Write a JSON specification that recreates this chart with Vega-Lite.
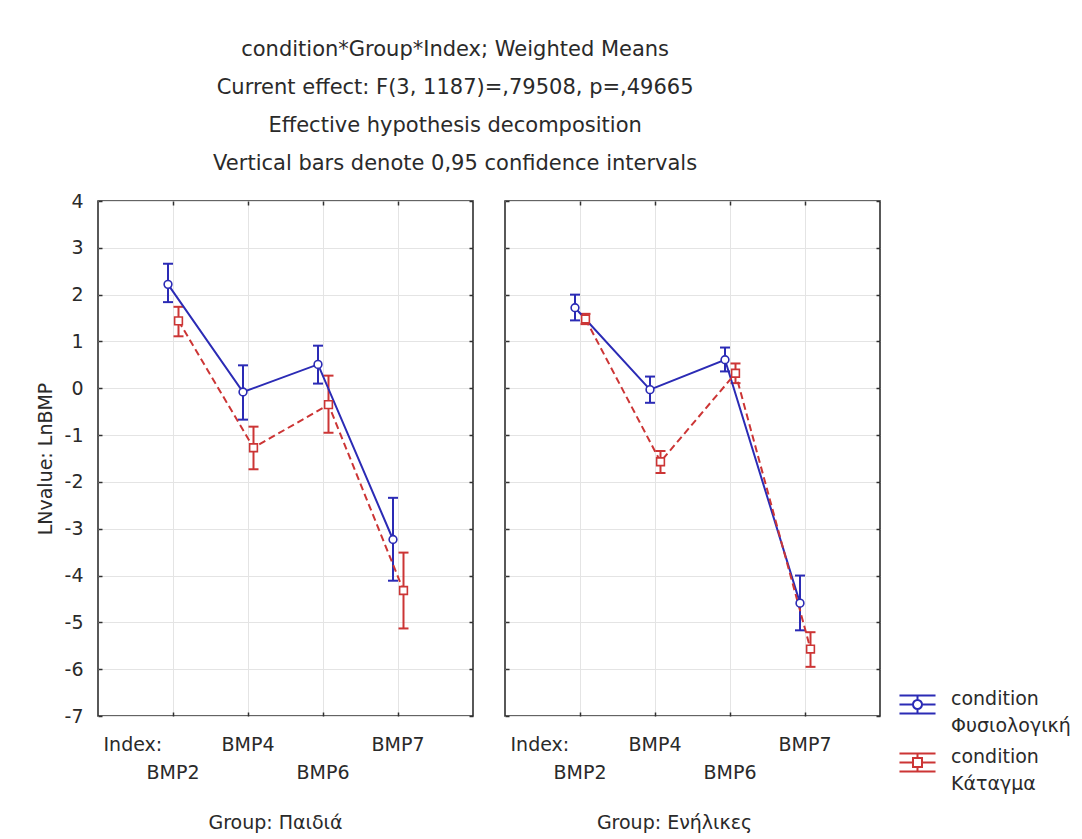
{
  "$schema": "https://vega.github.io/schema/vega-lite/v6.json",
  "background": "white",
  "padding": {"left": 35, "top": 39, "right": 5, "bottom": 5},
  "title": {
    "text": [
      "condition*Group*Index; Weighted Means",
      "Current effect: F(3, 1187)=,79508, p=,49665",
      "Effective hypothesis decomposition",
      "Vertical bars denote 0,95 confidence intervals"
    ],
    "font": "DejaVu Sans",
    "fontSize": 21,
    "fontWeight": "normal",
    "color": "#2a2a2a",
    "lineHeight": 38,
    "anchor": "middle",
    "frame": "bounds",
    "dx": -98,
    "offset": 17
  },
  "datasets": {
    "bmp": [
      {"Group": "Παιδιά", "condition": "Φυσιολογική", "Index": "BMP2", "mean": 2.22, "lo": 1.84, "hi": 2.66},
      {"Group": "Παιδιά", "condition": "Φυσιολογική", "Index": "BMP4", "mean": -0.08, "lo": -0.67, "hi": 0.49},
      {"Group": "Παιδιά", "condition": "Φυσιολογική", "Index": "BMP6", "mean": 0.51, "lo": 0.10, "hi": 0.91},
      {"Group": "Παιδιά", "condition": "Φυσιολογική", "Index": "BMP7", "mean": -3.23, "lo": -4.11, "hi": -2.34},
      {"Group": "Παιδιά", "condition": "Κάταγμα", "Index": "BMP2", "mean": 1.44, "lo": 1.11, "hi": 1.74},
      {"Group": "Παιδιά", "condition": "Κάταγμα", "Index": "BMP4", "mean": -1.27, "lo": -1.73, "hi": -0.82},
      {"Group": "Παιδιά", "condition": "Κάταγμα", "Index": "BMP6", "mean": -0.35, "lo": -0.95, "hi": 0.27},
      {"Group": "Παιδιά", "condition": "Κάταγμα", "Index": "BMP7", "mean": -4.32, "lo": -5.13, "hi": -3.51},
      {"Group": "Ενήλικες", "condition": "Φυσιολογική", "Index": "BMP2", "mean": 1.72, "lo": 1.45, "hi": 2.0},
      {"Group": "Ενήλικες", "condition": "Φυσιολογική", "Index": "BMP4", "mean": -0.03, "lo": -0.31, "hi": 0.25},
      {"Group": "Ενήλικες", "condition": "Φυσιολογική", "Index": "BMP6", "mean": 0.61, "lo": 0.36, "hi": 0.87},
      {"Group": "Ενήλικες", "condition": "Φυσιολογική", "Index": "BMP7", "mean": -4.59, "lo": -5.17, "hi": -4.0},
      {"Group": "Ενήλικες", "condition": "Κάταγμα", "Index": "BMP2", "mean": 1.48, "lo": 1.37, "hi": 1.59},
      {"Group": "Ενήλικες", "condition": "Κάταγμα", "Index": "BMP4", "mean": -1.57, "lo": -1.81, "hi": -1.34},
      {"Group": "Ενήλικες", "condition": "Κάταγμα", "Index": "BMP6", "mean": 0.32, "lo": 0.11, "hi": 0.53},
      {"Group": "Ενήλικες", "condition": "Κάταγμα", "Index": "BMP7", "mean": -5.57, "lo": -5.95, "hi": -5.21}
    ]
  },
  "data": {"name": "bmp"},
  "spacing": 28,
  "hconcat": [
    {
      "width": 375,
      "height": 515,
      "transform": [{"filter": "datum.Group === 'Παιδιά'"}],
      "title": {"text": "Group: Παιδιά", "orient": "bottom", "dx": -10, "offset": 32},
      "encoding": {
        "xOffset": {"field": "condition", "type": "nominal", "scale": {"type": "point", "domain": ["Φυσιολογική", "Κάταγμα"], "range": [32.5, 43], "padding": 0}},
        "color": {
          "field": "condition", "type": "nominal",
          "scale": {"domain": ["Φυσιολογική", "Κάταγμα"], "range": ["#2b2bb5", "#cc3535"]},
          "legend": {
            "orient": "none", "legendX": 800, "legendY": 484, "title": null,
            "labelExpr": "['condition', datum.label]",
            "labelFontSize": 19, "labelBaseline": "alphabetic", "labelOffset": 14,
            "symbolSize": 1300, "symbolStrokeWidth": 2, "symbolFillColor": "white",
            "rowPadding": 7,
            "encoding": {
              "labels": {"lineHeight": {"value": 27}},
              "symbols": {
                "shape": {
                  "condition": {"test": "datum.value === 'Κάταγμα'", "value": "M-1,-0.5H1M-1,0H-0.25M0.25,0H1M-1,0.5H1M0,-0.5V-0.25M0,0.25V0.5M-0.25,-0.25H0.25V0.25H-0.25Z"},
                  "value": "M-1,-0.5H1M-1,0H-0.25M0.25,0H1M-1,0.5H1M0,-0.5V-0.25M0,0.25V0.5M0.25,0A0.25,0.25 0 1,1 -0.25,0A0.25,0.25 0 1,1 0.25,0"
                },
                "fill": {"value": "white"},
                "fillOpacity": {"value": 1},
                "opacity": {"value": 1}
              }
            }
          }
        }
      },
      "resolve": {"axis": {"x": "independent", "y": "independent"}},
      "layer": [
        {
          "mark": {"type": "rule", "strokeWidth": 2},
          "encoding": {
            "x": {"field": "Index", "type": "nominal", "scale": {"domain": ["BMP2", "BMP4", "BMP6", "BMP7"], "paddingInner": 0, "paddingOuter": 0.5},
                  "axis": {"orient": "bottom", "grid": true, "ticks": true, "tickSize": -4, "labelPadding": 23, "labelAngle": 0,
                           "labelExpr": "datum.value === 'BMP2' || datum.value === 'BMP6' ? ['', datum.value] : datum.value",
                           "title": "Index:", "titleAnchor": "start", "titleAlign": "left", "titleBaseline": "top", "titleX": 5, "titleY": 19}},
            "y": {"field": "lo", "type": "quantitative", "scale": {"domain": [-7, 4], "nice": false},
                  "axis": {"orient": "left", "values": [-7, -6, -5, -4, -3, -2, -1, 0, 1, 2, 3, 4], "grid": true, "tickSize": -4, "labelPadding": 19,
                           "labelExpr": "datum.value < 0 ? '-' + abs(datum.value) : '' + datum.value",
                           "title": "LNvalue: LnBMP", "titlePadding": 9}},
            "y2": {"field": "hi"}
          }
        },
        {
          "mark": {"type": "point", "shape": "M-1,0H1", "size": 100, "filled": false, "strokeWidth": 2, "opacity": 1},
          "encoding": {
            "x": {"field": "Index", "type": "nominal",
                  "axis": {"orient": "top", "grid": false, "labels": false, "tickSize": -4, "title": null}},
            "y": {"field": "lo", "type": "quantitative",
                  "axis": {"orient": "right", "values": [-7, -6, -5, -4, -3, -2, -1, 0, 1, 2, 3, 4], "grid": false, "labels": false, "tickSize": -4, "title": null}}
          }
        },
        {
          "mark": {"type": "point", "shape": "M-1,0H1", "size": 100, "filled": false, "strokeWidth": 2, "opacity": 1},
          "encoding": {
            "x": {"field": "Index", "type": "nominal", "axis": null},
            "y": {"field": "hi", "type": "quantitative", "axis": null}
          }
        },
        {
          "transform": [{"filter": "datum.condition === 'Φυσιολογική'"}],
          "mark": {"type": "line", "strokeWidth": 2},
          "encoding": {
            "x": {"field": "Index", "type": "nominal", "axis": null},
            "y": {"field": "mean", "type": "quantitative", "axis": null}
          }
        },
        {
          "transform": [{"filter": "datum.condition === 'Κάταγμα'"}],
          "mark": {"type": "line", "strokeWidth": 2, "strokeDash": [7, 4]},
          "encoding": {
            "x": {"field": "Index", "type": "nominal", "axis": null},
            "y": {"field": "mean", "type": "quantitative", "axis": null}
          }
        },
        {
          "transform": [{"filter": "datum.condition === 'Φυσιολογική'"}],
          "mark": {"type": "point", "shape": "circle", "filled": false, "fill": "white", "fillOpacity": 1, "strokeWidth": 1.6, "size": 60, "opacity": 1},
          "encoding": {
            "x": {"field": "Index", "type": "nominal", "axis": null},
            "y": {"field": "mean", "type": "quantitative", "axis": null}
          }
        },
        {
          "transform": [{"filter": "datum.condition === 'Κάταγμα'"}],
          "mark": {"type": "point", "shape": "square", "filled": false, "fill": "white", "fillOpacity": 1, "strokeWidth": 1.6, "size": 60, "opacity": 1},
          "encoding": {
            "x": {"field": "Index", "type": "nominal", "axis": null},
            "y": {"field": "mean", "type": "quantitative", "axis": null}
          }
        }
      ]
    },
    {
      "width": 375,
      "height": 515,
      "transform": [{"filter": "datum.Group === 'Ενήλικες'"}],
      "title": {"text": "Group: Ενήλικες", "orient": "bottom", "dx": -18, "offset": 32},
      "encoding": {
        "xOffset": {"field": "condition", "type": "nominal", "scale": {"type": "point", "domain": ["Φυσιολογική", "Κάταγμα"], "range": [32.5, 43], "padding": 0}},
        "color": {"field": "condition", "type": "nominal"}
      },
      "resolve": {"axis": {"x": "independent", "y": "independent"}},
      "layer": [
        {
          "mark": {"type": "rule", "strokeWidth": 2},
          "encoding": {
            "x": {"field": "Index", "type": "nominal", "scale": {"domain": ["BMP2", "BMP4", "BMP6", "BMP7"], "paddingInner": 0, "paddingOuter": 0.5},
                  "axis": {"orient": "bottom", "grid": true, "ticks": true, "tickSize": -4, "labelPadding": 23, "labelAngle": 0,
                           "labelExpr": "datum.value === 'BMP2' || datum.value === 'BMP6' ? ['', datum.value] : datum.value",
                           "title": "Index:", "titleAnchor": "start", "titleAlign": "left", "titleBaseline": "top", "titleX": 5, "titleY": 19}},
            "y": {"field": "lo", "type": "quantitative", "scale": {"domain": [-7, 4], "nice": false},
                  "axis": {"orient": "left", "values": [-7, -6, -5, -4, -3, -2, -1, 0, 1, 2, 3, 4], "grid": true, "tickSize": -4, "labels": false, "title": null}},
            "y2": {"field": "hi"}
          }
        },
        {
          "mark": {"type": "point", "shape": "M-1,0H1", "size": 100, "filled": false, "strokeWidth": 2, "opacity": 1},
          "encoding": {
            "x": {"field": "Index", "type": "nominal",
                  "axis": {"orient": "top", "grid": false, "labels": false, "tickSize": -4, "title": null}},
            "y": {"field": "lo", "type": "quantitative",
                  "axis": {"orient": "right", "values": [-7, -6, -5, -4, -3, -2, -1, 0, 1, 2, 3, 4], "grid": false, "labels": false, "tickSize": -4, "title": null}}
          }
        },
        {
          "mark": {"type": "point", "shape": "M-1,0H1", "size": 100, "filled": false, "strokeWidth": 2, "opacity": 1},
          "encoding": {
            "x": {"field": "Index", "type": "nominal", "axis": null},
            "y": {"field": "hi", "type": "quantitative", "axis": null}
          }
        },
        {
          "transform": [{"filter": "datum.condition === 'Φυσιολογική'"}],
          "mark": {"type": "line", "strokeWidth": 2},
          "encoding": {
            "x": {"field": "Index", "type": "nominal", "axis": null},
            "y": {"field": "mean", "type": "quantitative", "axis": null}
          }
        },
        {
          "transform": [{"filter": "datum.condition === 'Κάταγμα'"}],
          "mark": {"type": "line", "strokeWidth": 2, "strokeDash": [7, 4]},
          "encoding": {
            "x": {"field": "Index", "type": "nominal", "axis": null},
            "y": {"field": "mean", "type": "quantitative", "axis": null}
          }
        },
        {
          "transform": [{"filter": "datum.condition === 'Φυσιολογική'"}],
          "mark": {"type": "point", "shape": "circle", "filled": false, "fill": "white", "fillOpacity": 1, "strokeWidth": 1.6, "size": 60, "opacity": 1},
          "encoding": {
            "x": {"field": "Index", "type": "nominal", "axis": null},
            "y": {"field": "mean", "type": "quantitative", "axis": null}
          }
        },
        {
          "transform": [{"filter": "datum.condition === 'Κάταγμα'"}],
          "mark": {"type": "point", "shape": "square", "filled": false, "fill": "white", "fillOpacity": 1, "strokeWidth": 1.6, "size": 60, "opacity": 1},
          "encoding": {
            "x": {"field": "Index", "type": "nominal", "axis": null},
            "y": {"field": "mean", "type": "quantitative", "axis": null}
          }
        }
      ]
    }
  ],
  "config": {
    "font": "DejaVu Sans",
    "view": {"stroke": "#303030", "strokeWidth": 1.6},
    "axis": {
      "domain": false,
      "labelFont": "DejaVu Sans",
      "labelFontSize": 19,
      "labelColor": "#2a2a2a",
      "labelLineHeight": 28,
      "titleFont": "DejaVu Sans",
      "titleFontSize": 19,
      "titleFontWeight": "normal",
      "titleColor": "#2a2a2a",
      "gridColor": "#e4e4e4",
      "gridWidth": 1,
      "tickColor": "#303030",
      "tickWidth": 1.5
    },
    "title": {"font": "DejaVu Sans", "fontSize": 19, "fontWeight": "normal", "color": "#2a2a2a"},
    "legend": {"labelFont": "DejaVu Sans", "labelColor": "#2a2a2a"}
  }
}
